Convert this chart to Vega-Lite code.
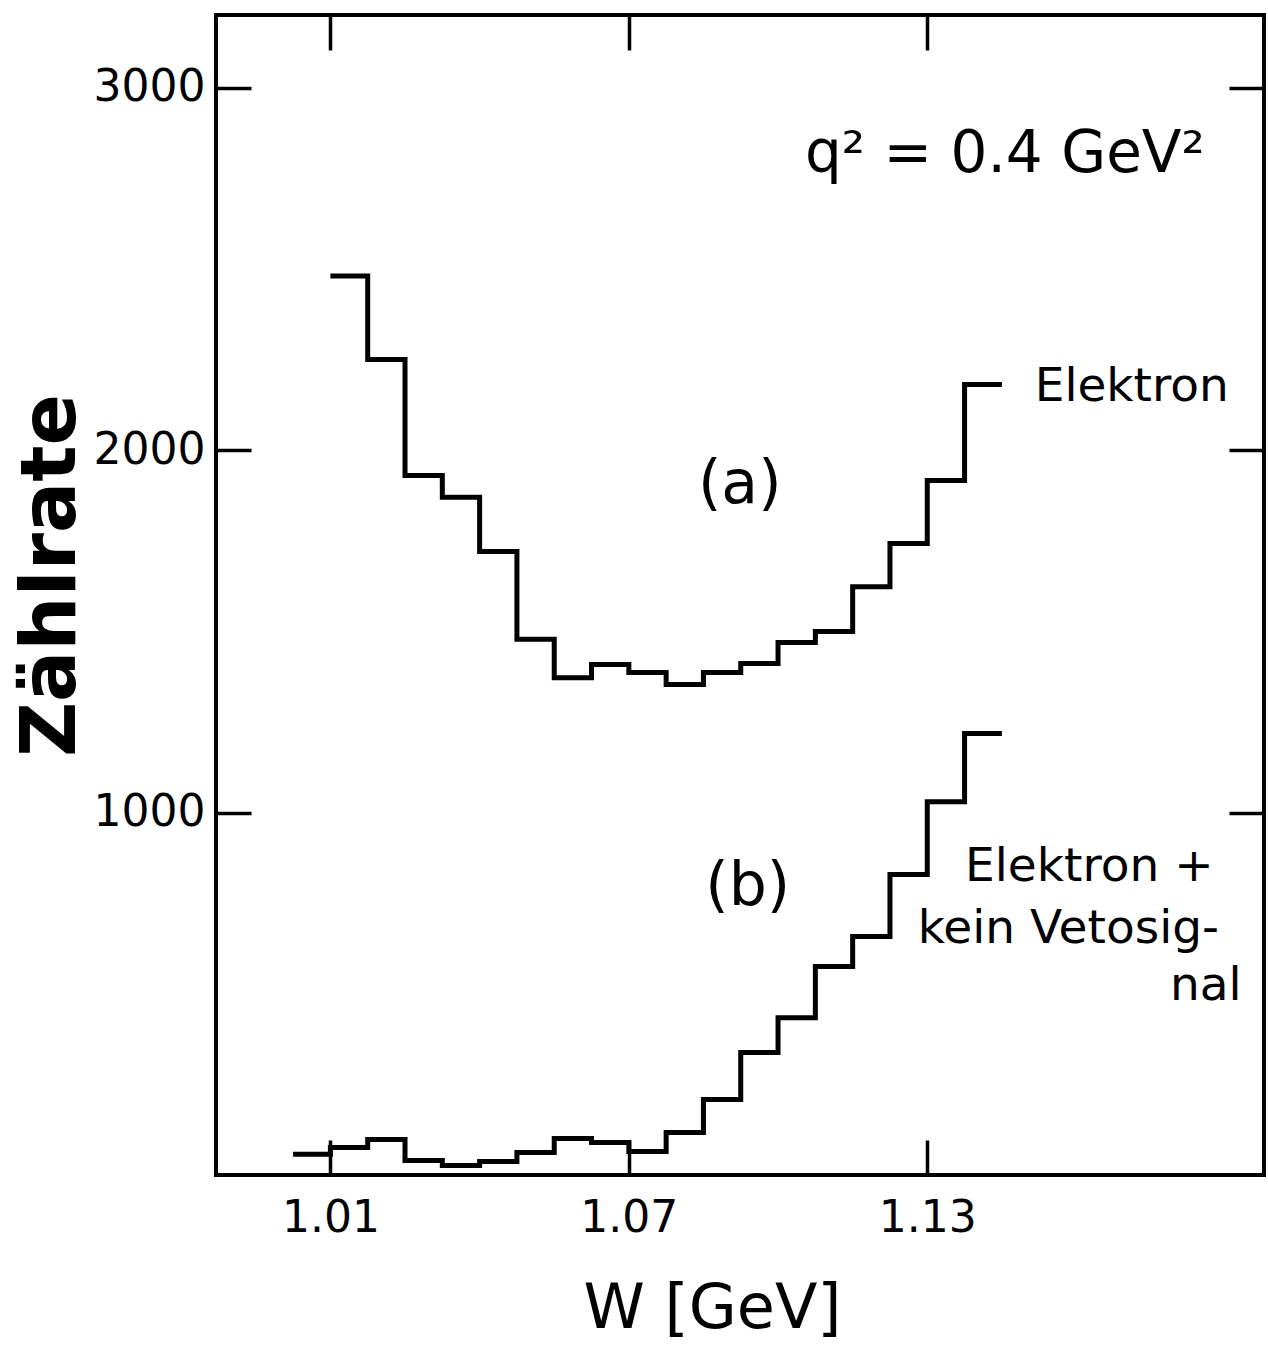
{
  "$schema": "https://vega.github.io/schema/vega-lite/v6.json",
  "width": 1048,
  "height": 1160,
  "autosize": "none",
  "padding": {"left": 216, "top": 15, "right": 4, "bottom": 171},
  "background": "white",
  "config": {"view": {"stroke": "black", "strokeWidth": 4}, "font": "DejaVu Sans"},
  "resolve": {"axis": {"x": "independent", "y": "independent"}},
  "layer": [
    {
      "data": {"values": [
        {"W": 1.01, "rate": 2480, "series": "a"},
        {"W": 1.0175, "rate": 2250, "series": "a"},
        {"W": 1.025, "rate": 1930, "series": "a"},
        {"W": 1.0325, "rate": 1870, "series": "a"},
        {"W": 1.04, "rate": 1720, "series": "a"},
        {"W": 1.0475, "rate": 1478, "series": "a"},
        {"W": 1.055, "rate": 1372, "series": "a"},
        {"W": 1.0625, "rate": 1408, "series": "a"},
        {"W": 1.07, "rate": 1386, "series": "a"},
        {"W": 1.0775, "rate": 1353, "series": "a"},
        {"W": 1.085, "rate": 1386, "series": "a"},
        {"W": 1.0925, "rate": 1411, "series": "a"},
        {"W": 1.1, "rate": 1469, "series": "a"},
        {"W": 1.1075, "rate": 1499, "series": "a"},
        {"W": 1.115, "rate": 1623, "series": "a"},
        {"W": 1.1225, "rate": 1742, "series": "a"},
        {"W": 1.13, "rate": 1916, "series": "a"},
        {"W": 1.1375, "rate": 2181, "series": "a"},
        {"W": 1.145, "rate": 2181, "series": "a"},
        {"W": 1.0025, "rate": 57, "series": "b"},
        {"W": 1.01, "rate": 76, "series": "b"},
        {"W": 1.0175, "rate": 98, "series": "b"},
        {"W": 1.025, "rate": 40, "series": "b"},
        {"W": 1.0325, "rate": 26, "series": "b"},
        {"W": 1.04, "rate": 37, "series": "b"},
        {"W": 1.0475, "rate": 62, "series": "b"},
        {"W": 1.055, "rate": 101, "series": "b"},
        {"W": 1.0625, "rate": 90, "series": "b"},
        {"W": 1.07, "rate": 65, "series": "b"},
        {"W": 1.0775, "rate": 117, "series": "b"},
        {"W": 1.085, "rate": 208, "series": "b"},
        {"W": 1.0925, "rate": 338, "series": "b"},
        {"W": 1.1, "rate": 434, "series": "b"},
        {"W": 1.1075, "rate": 575, "series": "b"},
        {"W": 1.115, "rate": 658, "series": "b"},
        {"W": 1.1225, "rate": 829, "series": "b"},
        {"W": 1.13, "rate": 1030, "series": "b"},
        {"W": 1.1375, "rate": 1218, "series": "b"},
        {"W": 1.145, "rate": 1218, "series": "b"}
      ]},
      "mark": {"type": "line", "interpolate": "step-after", "color": "black", "strokeWidth": 5},
      "encoding": {
        "x": {"field": "W", "type": "quantitative",
          "scale": {"domain": [0.987, 1.1977], "nice": false, "zero": false},
          "axis": {"orient": "bottom", "values": [1.01, 1.07, 1.13], "format": ".2f", "grid": false, "domain": false,
            "tickSize": -35, "tickWidth": 3.5, "tickColor": "black",
            "labelFont": "DejaVu Sans", "labelFontSize": 44, "labelColor": "black", "labelPadding": 56, "labelFlush": false,
            "title": "W  [GeV]", "titleFont": "DejaVu Sans", "titleFontSize": 62, "titleFontWeight": "normal", "titleColor": "black",
            "titleX": 496, "titleY": 152, "titleBaseline": "alphabetic"}},
        "y": {"field": "rate", "type": "quantitative",
          "scale": {"domain": [0, 3200], "nice": false},
          "axis": {"orient": "left", "values": [1000, 2000, 3000], "format": "d", "grid": false, "domain": false,
            "tickSize": -35, "tickWidth": 3.5, "tickColor": "black",
            "labelFont": "DejaVu Sans", "labelFontSize": 44, "labelColor": "black", "labelPadding": 46, "labelFlush": false,
            "title": "Zählrate", "titleFont": "DejaVu Sans", "titleFontSize": 76, "titleFontWeight": "bold", "titleColor": "black",
            "titleX": -142, "titleY": 560, "titleBaseline": "alphabetic"}},
        "detail": {"field": "series", "type": "nominal"}
      }
    },
    {
      "data": {"values": [{"W": 1.1456, "rate": 2768, "label": "q² = 0.4 GeV²"}]},
      "mark": {"type": "text", "align": "center", "baseline": "alphabetic", "fontSize": 58, "font": "DejaVu Sans", "color": "black"},
      "encoding": {
        "x": {"field": "W", "type": "quantitative",
          "axis": {"orient": "top", "values": [1.01, 1.07, 1.13], "labels": false, "title": null, "grid": false, "domain": false,
            "tickSize": -35, "tickWidth": 3.5, "tickColor": "black"}},
        "y": {"field": "rate", "type": "quantitative",
          "axis": {"orient": "right", "values": [1000, 2000, 3000], "labels": false, "title": null, "grid": false, "domain": false,
            "tickSize": -35, "tickWidth": 3.5, "tickColor": "black"}},
        "text": {"field": "label"}
      }
    },
    {
      "data": {"values": [
        {"W": 1.0923, "rate": 1855, "label": "(a)"},
        {"W": 1.0939, "rate": 746, "label": "(b)"}
      ]},
      "mark": {"type": "text", "align": "center", "baseline": "alphabetic", "fontSize": 60, "font": "DejaVu Sans", "color": "black"},
      "encoding": {
        "x": {"field": "W", "type": "quantitative", "axis": null},
        "y": {"field": "rate", "type": "quantitative", "axis": null},
        "text": {"field": "label"}
      }
    },
    {
      "data": {"values": [
        {"W": 1.1516, "rate": 2134, "label": "Elektron"},
        {"W": 1.1376, "rate": 810, "label": "Elektron +"},
        {"W": 1.1281, "rate": 641, "label": "kein Vetosig-"},
        {"W": 1.1788, "rate": 484, "label": "nal"}
      ]},
      "mark": {"type": "text", "align": "left", "baseline": "alphabetic", "fontSize": 47, "font": "DejaVu Sans", "color": "black"},
      "encoding": {
        "x": {"field": "W", "type": "quantitative", "axis": null},
        "y": {"field": "rate", "type": "quantitative", "axis": null},
        "text": {"field": "label"}
      }
    }
  ]
}
